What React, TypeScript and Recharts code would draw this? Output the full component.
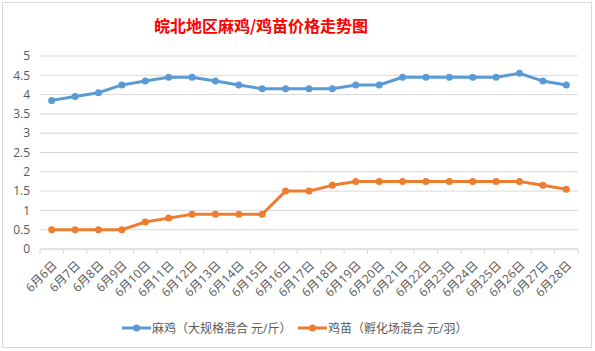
import { LineChart, Line, XAxis, YAxis, CartesianGrid, Legend } from 'recharts';

// 皖北地区麻鸡/鸡苗价格 (6月6日 - 6月28日)
const dates = [
  '6月6日', '6月7日', '6月8日', '6月9日', '6月10日', '6月11日', '6月12日', '6月13日',
  '6月14日', '6月15日', '6月16日', '6月17日', '6月18日', '6月19日', '6月20日', '6月21日',
  '6月22日', '6月23日', '6月24日', '6月25日', '6月26日', '6月27日', '6月28日',
];
const majiPrice = [
  3.85, 3.95, 4.05, 4.25, 4.35, 4.45, 4.45, 4.35, 4.25, 4.15, 4.15, 4.15,
  4.15, 4.25, 4.25, 4.45, 4.45, 4.45, 4.45, 4.45, 4.55, 4.35, 4.25,
];
const jimiaoPrice = [
  0.5, 0.5, 0.5, 0.5, 0.7, 0.8, 0.9, 0.9, 0.9, 0.9, 1.5, 1.5,
  1.65, 1.75, 1.75, 1.75, 1.75, 1.75, 1.75, 1.75, 1.75, 1.65, 1.55,
];
const yTicks = [0, 0.5, 1, 1.5, 2, 2.5, 3, 3.5, 4, 4.5, 5];

const seriesNames = ['麻鸡（大规格混合 元/斤）', '鸡苗（孵化场混合 元/羽）'];
const BLUE = '#5b9bd5';
const ORANGE = '#ed7d31';
const FONT = '"Open Sans", "Noto Sans CJK SC", sans-serif';

const data = dates.map((d, i) => ({ date: d, maji: majiPrice[i], jimiao: jimiaoPrice[i] }));

const WIDTH = 590;
const HEIGHT = 346;
const PLOT_LEFT = 38;
const PLOT_RIGHT = 576;
const BAND = (PLOT_RIGHT - PLOT_LEFT) / dates.length;

function DateTick(props: any) {
  const { x, y, payload, index } = props;
  const left = x - BAND / 2;
  return (
    <g>
      <line x1={left} y1={y} x2={left} y2={y + 5} stroke="#d9d9d9" />
      {index === dates.length - 1 && (
        <line x1={x + BAND / 2} y1={y} x2={x + BAND / 2} y2={y + 5} stroke="#d9d9d9" />
      )}
      <g transform={`translate(${x + 3},${y + 14})`}>
        <text
          x={0}
          y={0}
          dy="0.35em"
          textAnchor="end"
          transform="rotate(-45)"
          fontSize={12}
          fill="#595959"
          fontFamily={FONT}
        >
          {payload.value}
        </text>
      </g>
    </g>
  );
}

function LegendContent() {
  const items = [
    { name: seriesNames[0], color: BLUE, left: 120 },
    { name: seriesNames[1], color: ORANGE, left: 296 },
  ];
  return (
    <div style={{ position: 'relative', width: WIDTH, height: 20 }}>
      {items.map((it) => (
        <div
          key={it.name}
          style={{ position: 'absolute', left: it.left, top: 0, height: 20, display: 'flex', alignItems: 'center' }}
        >
          <svg width={30} height={10}>
            <line x1={0} y1={5} x2={29} y2={5} stroke={it.color} strokeWidth={3} />
            <circle cx={14.5} cy={5} r={3.5} fill={it.color} />
          </svg>
          <span style={{ fontSize: 12, color: '#595959', fontFamily: FONT, whiteSpace: 'nowrap' }}>{it.name}</span>
        </div>
      ))}
    </div>
  );
}

export default function App() {
  return (
    <div style={{ position: 'absolute', left: 0, top: 0, width: 595, height: 351, background: '#fff' }}>
      <div
        style={{
          position: 'absolute',
          left: 2,
          top: 2,
          width: WIDTH,
          height: HEIGHT,
          border: '1px solid #d9d9d9',
          boxSizing: 'border-box',
        }}
      />
      <div style={{ position: 'absolute', left: 2, top: 2 }}>
        <div
          style={{
            position: 'absolute',
            left: 0,
            top: 11,
            width: 518,
            textAlign: 'center',
            fontSize: 16,
            fontWeight: 'bold',
            color: '#ff0000',
            fontFamily: '"Noto Sans CJK SC", sans-serif',
            zIndex: 2,
          }}
        >
          皖北地区麻鸡/鸡苗价格走势图
        </div>
        <LineChart
          width={WIDTH}
          height={HEIGHT}
          data={data}
          margin={{ top: 54, right: WIDTH - PLOT_RIGHT, left: 0, bottom: 10 }}
        >
          <CartesianGrid vertical={false} stroke="#d9d9d9" />
          <XAxis
            dataKey="date"
            interval={0}
            padding={{ left: BAND / 2, right: BAND / 2 }}
            tickLine={false}
            tickSize={0}
            tickMargin={0}
            axisLine={{ stroke: '#d9d9d9' }}
            height={69}
            tick={<DateTick />}
          />
          <YAxis
            width={PLOT_LEFT}
            domain={[0, 5]}
            ticks={yTicks}
            interval={0}
            axisLine={false}
            tickLine={false}
            tickSize={0}
            tickMargin={10}
            tick={{ fontSize: 12, fill: '#595959', fontFamily: FONT }}
          />
          <Legend verticalAlign="bottom" height={20} content={<LegendContent />} />
          <Line
            type="linear"
            dataKey="maji"
            name={seriesNames[0]}
            stroke={BLUE}
            strokeWidth={3}
            dot={{ r: 3.5, fill: BLUE, stroke: BLUE, strokeWidth: 0 }}
            isAnimationActive={false}
          />
          <Line
            type="linear"
            dataKey="jimiao"
            name={seriesNames[1]}
            stroke={ORANGE}
            strokeWidth={3}
            dot={{ r: 3.5, fill: ORANGE, stroke: ORANGE, strokeWidth: 0 }}
            isAnimationActive={false}
          />
        </LineChart>
      </div>
    </div>
  );
}
